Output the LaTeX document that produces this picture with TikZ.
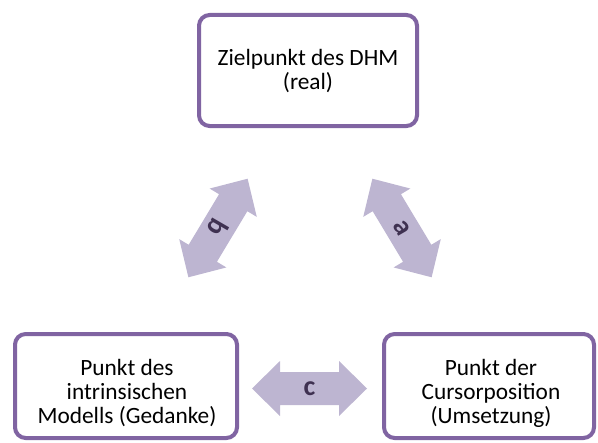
\documentclass[tikz,border=0pt]{standalone}
\usepackage{fontspec}
\setmainfont{Carlito}
\definecolor{boxline}{HTML}{8064A2}
\definecolor{arrowfill}{HTML}{BDB5D1}
\definecolor{labeltext}{HTML}{3F3151}
\tikzset{
  stepbox/.style={draw=boxline, line width=3pt, rounded corners=8pt, fill=white, inner sep=0pt},
  boxtext/.style={align=center, font=\fontsize{17.5}{18}\selectfont, inner sep=0pt},
  arrowlabel/.style={font=\fontsize{21}{24}\selectfont\bfseries, text=labeltext, inner sep=0pt},
  dblarrow/.pic={
    \fill[arrowfill] (-57.5,0) -- (-29.5,27.5) -- (-29.5,16.5) -- (29.5,16.5)
      -- (29.5,27.5) -- (57.5,0) -- (29.5,-27.5) -- (29.5,-16.5)
      -- (-29.5,-16.5) -- (-29.5,-27.5) -- cycle;
  }
}
\begin{document}
\begin{tikzpicture}[x=0.75pt,y=-0.75pt]
  \useasboundingbox (0,0) rectangle (598,442);
  \clip (0,0) rectangle (598,442);

  % the three positions
  \node[stepbox, minimum width=218*0.75pt, minimum height=111*0.75pt] (real) at (308,70.5) {};
  \node[boxtext] (realtext) at (308,71) {Zielpunkt des DHM\\(real)};

  \node[stepbox, minimum width=222*0.75pt, minimum height=104*0.75pt] (model) at (126,386) {};
  \node[boxtext] (modeltext) at (127,393) {Punkt des\\intrinsischen\\Modells (Gedanke)};

  \node[stepbox, minimum width=210*0.75pt, minimum height=104*0.75pt] (cursor) at (489,386) {};
  \node[boxtext] (cursortext) at (491,393) {Punkt der\\Cursorposition\\(Umsetzung)};

  % double arrows between the positions
  \pic[rotate=-59] at (402,228) {dblarrow};
  \node[arrowlabel, rotate=-60] (la) at (402,228) {a};

  \pic[rotate=59] at (218,228) {dblarrow};
  \node[arrowlabel, rotate=-120] (lb) at (218,228) {b};

  \pic at (309.5,388.5) {dblarrow};
  \node[arrowlabel] (lc) at (309.5,388.5) {c};
\end{tikzpicture}
\end{document}
